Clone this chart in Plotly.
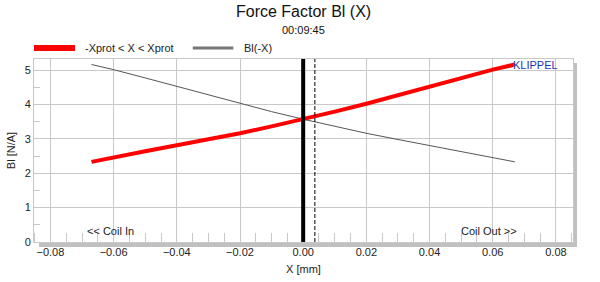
import plotly.graph_objects as go

# ---- data ----
x_mm = [-0.067, -0.06, -0.05, -0.04, -0.03, -0.02, -0.01, 0.0,
        0.01, 0.02, 0.03, 0.04, 0.05, 0.06, 0.067]
bl_x = [2.33, 2.47, 2.64, 2.81, 2.98, 3.16, 3.36, 3.57,
        3.79, 4.02, 4.27, 4.52, 4.77, 5.01, 5.16]
bl_minus_x = [5.16, 5.01, 4.77, 4.52, 4.27, 4.02, 3.79, 3.57,
              3.36, 3.16, 2.98, 2.81, 2.64, 2.47, 2.33]
rest_position = 0.0
offset_position = 0.0037
x_ticks = [-0.08, -0.06, -0.04, -0.02, 0.0, 0.02, 0.04, 0.06, 0.08]
y_ticks = [0, 1, 2, 3, 4, 5]
legend_labels = ["-Xprot < X < Xprot", "Bl(-X)"]

FONT = "Liberation Sans, Arial, sans-serif"
GRID = "#c8c8c8"
TXT = "#222222"

fig = go.Figure()
fig.add_trace(go.Scatter(x=x_mm, y=bl_minus_x, mode="lines", name=legend_labels[1],
                         line=dict(color="#555555", width=1), showlegend=False))
fig.add_trace(go.Scatter(x=x_mm, y=bl_x, mode="lines", name=legend_labels[0],
                         line=dict(color="#ff0000", width=4), showlegend=False))

LEG_Y = 1.060
shapes = [
    # shadow of the frame
    dict(type="rect", xref="paper", yref="paper", x0=0.0093, x1=1.0074, y0=-0.0273, y1=-0.004,
         fillcolor="#c0c0c0", line=dict(width=0), layer="below"),
    dict(type="rect", xref="paper", yref="paper", x0=1.001, x1=1.0074, y0=-0.0273, y1=0.978,
         fillcolor="#c0c0c0", line=dict(width=0), layer="below"),
    # vertical markers
    dict(type="line", xref="x", yref="paper", x0=rest_position, x1=rest_position, y0=0, y1=1,
         line=dict(color="black", width=4)),
    dict(type="line", xref="x", yref="paper", x0=offset_position, x1=offset_position, y0=0, y1=1,
         line=dict(color="black", width=1, dash="4px,2px")),
    # legend swatches
    dict(type="line", xref="paper", yref="paper", x0=0.0, x1=0.0761, y0=LEG_Y, y1=LEG_Y,
         line=dict(color="#ff0000", width=6)),
    dict(type="line", xref="paper", yref="paper", x0=0.2945, x1=0.3698, y0=LEG_Y, y1=LEG_Y,
         line=dict(color="#777777", width=3)),
]

fig.update_layout(
    width=600, height=282,
    margin=dict(l=34, r=27, t=59, b=40),
    paper_bgcolor="white", plot_bgcolor="white",
    font=dict(family=FONT, size=11, color=TXT),
    showlegend=False,
    shapes=shapes,
    annotations=[
        dict(text="Force Factor Bl (X)", xref="paper", yref="paper", x=0.5, y=1,
             yanchor="bottom", yshift=37, showarrow=False, font=dict(size=16, color="#111111")),
        dict(text="00:09:45", xref="paper", yref="paper", x=0.5, y=1,
             yanchor="bottom", yshift=21, showarrow=False, font=dict(size=11, color="#111111")),
        dict(text=legend_labels[0], xref="paper", yref="paper", x=0.0915, xanchor="left",
             y=LEG_Y, yanchor="middle", showarrow=False, font=dict(size=11, color=TXT)),
        dict(text=legend_labels[1], xref="paper", yref="paper", x=0.3854, xanchor="left",
             y=LEG_Y, yanchor="middle", showarrow=False, font=dict(size=11, color=TXT)),
        dict(text="KLIPPEL", xref="paper", yref="paper", x=0.976, xanchor="right", y=1,
             yanchor="top", yshift=2, showarrow=False, font=dict(size=11, color="#1a35b0")),
        dict(text="<< Coil In", x=-0.061, y=0.32, showarrow=False,
             font=dict(size=11, color=TXT)),
        dict(text="Coil Out >>", x=0.0587, y=0.32, showarrow=False,
             font=dict(size=11, color=TXT)),
    ],
)
fig.update_xaxes(range=[-0.0852, 0.0854], tickvals=x_ticks, tickformat=".2f",
                 automargin=False,
                 showgrid=True, gridcolor=GRID, gridwidth=1, zeroline=False,
                 showline=True, linecolor=GRID, mirror=True, ticks="",
                 minor=dict(dtick=0.005, tick0=0, ticks="inside", ticklen=9,
                            tickcolor=GRID, showgrid=False),
                 title=dict(text="X [mm]", standoff=8, font=dict(size=11)))
fig.update_yaxes(range=[0, 5.32], tickvals=y_ticks, automargin=False,
                 showgrid=True, gridcolor=GRID, gridwidth=1, zeroline=False,
                 showline=True, linecolor=GRID, mirror=True, ticks="",
                 minor=dict(dtick=0.5, tick0=0, ticks="inside", ticklen=6,
                            tickcolor=GRID, showgrid=False),
                 title=dict(text="Bl [N/A]", standoff=6, font=dict(size=11)))

fig.write_html("out.html")
